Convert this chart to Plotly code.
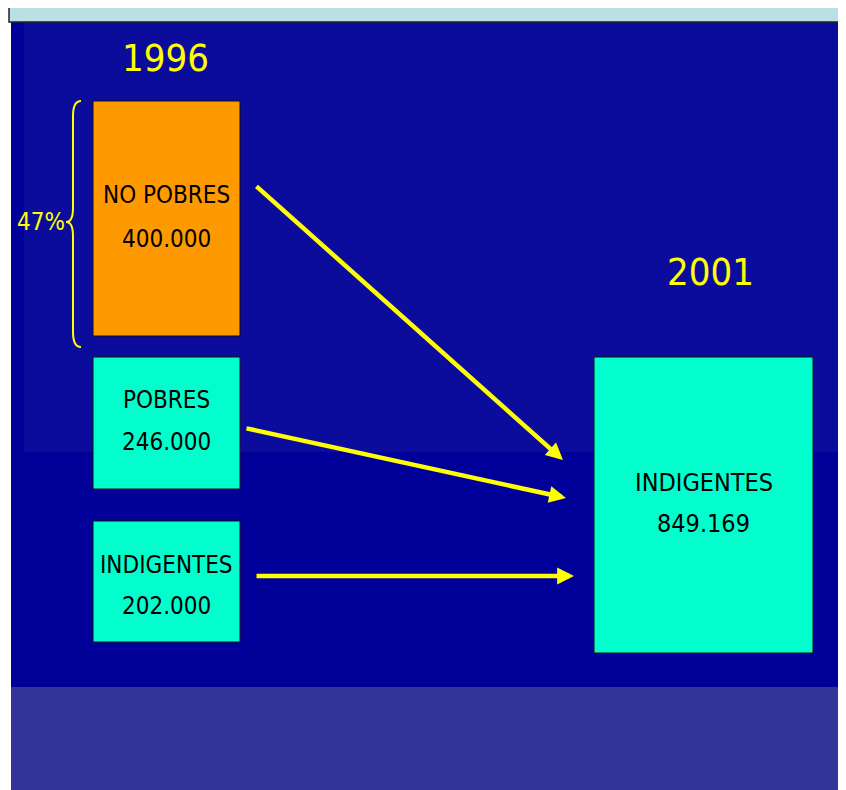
import plotly.graph_objects as go

# ---- data
year_from = "1996"
year_to = "2001"
groups_1996 = ["NO POBRES", "POBRES", "INDIGENTES"]
counts_1996 = ["400.000", "246.000", "202.000"]
group_2001 = "INDIGENTES"
count_2001 = "849.169"
share_label = "47%"

# ---- layout (page pixel coords, y grows downward; page body has an 8px margin)
W, H = 846, 790
OFF = 8
FONT = "DejaVu Sans"
YELLOW = "#FFFF00"
box_fill = ["#FF9900", "#00FFCC", "#00FFCC"]
boxes_1996 = [(93, 101, 240, 336), (93, 357, 240, 489), (93, 521, 240, 642)]
label_y_1996 = [(195, 239), (400, 442), (565, 606)]
box_2001 = (594, 357, 813, 653)
label_y_2001 = (482, 523)
arrows = [((255, 185), (563, 460)), ((245, 428), (566, 498)), ((255, 576), (574, 576))]


def narrow(s):
    return f'<span style="font-stretch:condensed">{s}</span>'


def label(x, y, s, size, color="black"):
    return dict(x=x, y=y, text=narrow(s), showarrow=False,
                font=dict(family=FONT, size=size, color=color))


shapes = [
    # slide background bands
    dict(type="rect", x0=11, x1=W + OFF, y0=22, y1=687, fillcolor="#000099", line_width=0, layer="below"),
    dict(type="rect", x0=24, x1=843, y0=22, y1=452, fillcolor="#0C0C9C", line_width=0, layer="below"),
    dict(type="rect", x0=11, x1=W + OFF, y0=687, y1=H + OFF, fillcolor="#333399", line_width=0, layer="below"),
    dict(type="rect", x0=9, x1=W + OFF, y0=7, y1=22, fillcolor="#BBE0E3",
         line=dict(color="#222222", width=1.5), layer="below"),
    # brace
    dict(type="path", path="M 81 101 Q 73 101 73 116 L 73 208 Q 73 222 66 222 "
                           "Q 73 222 73 236 L 73 332 Q 73 347 81 347",
         line=dict(color=YELLOW, width=2)),
]

annotations = []
for (x0, y0, x1, y1), fill, name, count, (ya, yb) in zip(boxes_1996, box_fill, groups_1996,
                                                         counts_1996, label_y_1996):
    shapes.append(dict(type="rect", x0=x0, x1=x1, y0=y0, y1=y1, fillcolor=fill,
                       line=dict(color="#111111", width=1)))
    annotations.append(label((x0 + x1) / 2, ya, name, 24))
    annotations.append(label((x0 + x1) / 2, yb, count, 24))

x0, y0, x1, y1 = box_2001
shapes.append(dict(type="rect", x0=x0, x1=x1, y0=y0, y1=y1, fillcolor="#00FFCC",
                   line=dict(color="#111111", width=1)))
annotations.append(label((x0 + x1) / 2, label_y_2001[0], group_2001, 25))
annotations.append(label((x0 + x1) / 2, label_y_2001[1], count_2001, 25))

annotations += [
    label(165, 58, year_from, 38, YELLOW),
    label(710, 272, year_to, 38, YELLOW),
    label(41, 222, share_label, 24, YELLOW),
]
for (sx, sy), (ex, ey) in arrows:
    annotations.append(dict(x=ex, y=ey, ax=sx, ay=sy, xref="x", yref="y", axref="x", ayref="y",
                            text="", showarrow=True, arrowhead=2, arrowsize=0.75,
                            arrowwidth=4.5, arrowcolor=YELLOW))

fig = go.Figure()
fig.update_layout(
    width=W, height=H, margin=dict(l=0, r=0, t=0, b=0),
    paper_bgcolor="white", plot_bgcolor="white",
    xaxis=dict(range=[OFF, W + OFF], visible=False, fixedrange=True),
    yaxis=dict(range=[H + OFF, OFF], visible=False, fixedrange=True),
    shapes=shapes, annotations=annotations, showlegend=False,
)
fig.write_html("out.html")
